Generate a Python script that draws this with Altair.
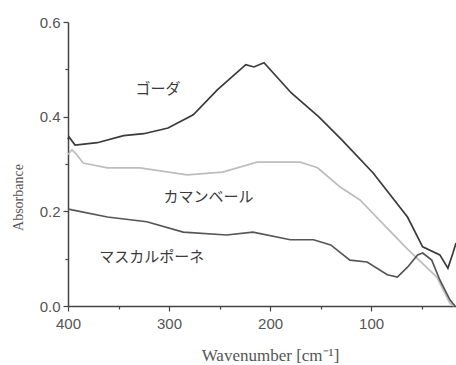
import altair as alt
import pandas as pd

gouda_x = [400, 399, 393, 371, 345, 325, 301, 276, 252, 224, 216, 206, 179, 152, 129, 98, 64, 49, 32, 24, 19, 16]
gouda_y = [0.352, 0.357, 0.34, 0.345, 0.36, 0.364, 0.376, 0.404, 0.457, 0.51, 0.505, 0.514, 0.45, 0.40, 0.351, 0.281, 0.188, 0.125, 0.108, 0.08, 0.112, 0.133]

camembert_x = [400, 396, 391, 385, 361, 329, 282, 247, 213, 170, 153, 131, 111, 98, 64, 35, 22, 18]
camembert_y = [0.32, 0.33, 0.319, 0.302, 0.292, 0.292, 0.277, 0.283, 0.304, 0.304, 0.292, 0.252, 0.224, 0.195, 0.12, 0.061, 0.006, 0.0]

mascarpone_x = [400, 396, 361, 322, 286, 243, 217, 180, 157, 140, 121, 104, 84, 74, 64, 54, 49, 40, 32, 22, 17]
mascarpone_y = [0.205, 0.203, 0.188, 0.178, 0.156, 0.150, 0.156, 0.14, 0.14, 0.129, 0.097, 0.093, 0.066, 0.061, 0.082, 0.108, 0.112, 0.097, 0.055, 0.013, 0.0]

label_text = ["ゴーダ", "カマンベール", "マスカルポーネ"]
label_x = [311, 261, 317]
label_y = [0.459, 0.230, 0.104]

series_names = ["ゴーダ", "カマンベール", "マスカルポーネ"]
series_colors = ["#3a3a3a", "#bdbdbd", "#555555"]

rows = []
for name, xs, ys in [("ゴーダ", gouda_x, gouda_y), ("カマンベール", camembert_x, camembert_y), ("マスカルポーネ", mascarpone_x, mascarpone_y)]:
    for i, (a, b) in enumerate(zip(xs, ys)):
        rows.append({"series": name, "wn": a, "abs": b, "order": i})
df = pd.DataFrame(rows)
labels = pd.DataFrame({"text": label_text, "wn": label_x, "abs": label_y})

xscale = alt.Scale(domain=[400, 16], zero=False, nice=False)
yscale = alt.Scale(domain=[0, 0.6], nice=False)

xaxis = alt.Axis(
    values=[400, 350, 300, 250, 200, 150, 100, 50],
    labelExpr="datum.value % 100 == 50 ? '' : datum.label",
    tickSize={"expr": "datum.value % 100 == 50 ? 3 : 5"},
    title="Wavenumber [cm⁻¹]",
    titleFont="Liberation Serif", titleFontSize=17, titleFontWeight="normal", titleColor="#555555",
    titleX=202, titleY=54, titleBaseline="alphabetic", titleAlign="center",
    labelFont="Liberation Sans", labelFontSize=15, labelColor="#555555", labelPadding=5,
    domainColor="#444444", domainWidth=1.5, tickColor="#444444", tickWidth=1.2,
    grid=False, labelFlush=False,
)
yaxis = alt.Axis(
    values=[0, 0.1, 0.2, 0.3, 0.4, 0.5, 0.6],
    labelExpr="round(datum.value*10) % 2 == 1 ? '' : format(datum.value, '.1f')",
    tickSize={"expr": "round(datum.value*10) % 2 == 1 ? 3 : 5"},
    title="Absorbance",
    titleFont="Liberation Serif", titleFontSize=14, titleFontWeight="normal", titleColor="#555555",
    titleX=-43, titleY=175, titleAngle=270, titleBaseline="bottom", titleAlign="center",
    labelFont="Liberation Sans", labelFontSize=15, labelColor="#555555", labelPadding=3,
    domainColor="#444444", domainWidth=1.5, tickColor="#444444", tickWidth=1.2,
    grid=False,
)

lines = alt.Chart(df).mark_line(strokeWidth=1.7).encode(
    x=alt.X("wn:Q", scale=xscale, axis=xaxis),
    y=alt.Y("abs:Q", scale=yscale, axis=yaxis),
    color=alt.Color("series:N", scale=alt.Scale(domain=series_names, range=series_colors), legend=None),
    order="order:Q",
    detail="series:N",
)

text = alt.Chart(labels).mark_text(font="Noto Sans CJK JP", fontSize=15, color="#3a3a3a").encode(
    x=alt.X("wn:Q", scale=xscale),
    y=alt.Y("abs:Q", scale=yscale),
    text="text:N",
)

chart = alt.layer(lines, text).properties(
    width=388, height=284,
    autosize=alt.AutoSizeParams(type="none"),
    padding={"left": 68, "top": 22, "right": 0, "bottom": 59},
    background="white",
).configure_view(stroke=None)

chart.save("out.html", embed_options={"renderer": "svg", "actions": False})
